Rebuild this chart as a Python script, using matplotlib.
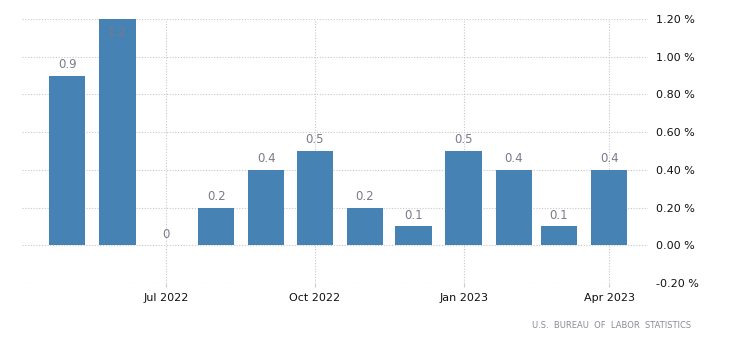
import matplotlib
matplotlib.use("Agg")
import matplotlib.pyplot as plt
import matplotlib.dates as mdates
import datetime as dt

months = ["2022-05", "2022-06", "2022-07", "2022-08", "2022-09", "2022-10",
          "2022-11", "2022-12", "2023-01", "2023-02", "2023-03", "2023-04"]
values = [0.9, 1.2, 0.0, 0.2, 0.4, 0.5, 0.2, 0.1, 0.5, 0.4, 0.1, 0.4]
labels = ["0.9", "1.2", "0", "0.2", "0.4", "0.5", "0.2", "0.1", "0.5", "0.4", "0.1", "0.4"]
yticks = [-0.2, 0.0, 0.2, 0.4, 0.6, 0.8, 1.0, 1.2]
xtick_dates = ["2022-07", "2022-10", "2023-01", "2023-04"]
xtick_labels = ["Jul 2022", "Oct 2022", "Jan 2023", "Apr 2023"]
source = "U.S.  BUREAU  OF  LABOR  STATISTICS"

def d(s):
    y, m = s.split("-")
    return dt.datetime(int(y), int(m), 1)

xs = [d(m) for m in months]

fig = plt.figure(figsize=(7.3, 3.49), dpi=100)
ax = fig.add_axes([22/730, 1-283/349, (648-22)/730, (283-19)/349])

ax.bar(xs, values, width=22.5, color="#4682b4", zorder=3)

ymin, ymax = -0.2, 1.2
ax.set_ylim(ymin, ymax)
ax.set_xlim(dt.datetime(2022, 4, 3), dt.datetime(2023, 4, 25))

for x, v, lab in zip(xs, values, labels):
    if v >= ymax - 0.05:
        ax.annotate(lab, (mdates.date2num(x), v), xytext=(0, -10), textcoords="offset points",
                    ha="center", va="center", color="#7a7a8a", fontsize=8.5, zorder=4)
    else:
        ax.annotate(lab, (mdates.date2num(x), v), xytext=(0, 8), textcoords="offset points",
                    ha="center", va="center", color="#7a7a8a", fontsize=8.5, zorder=4)

ax.set_yticks(yticks)
ax.set_yticklabels([f"{t:.2f} %" for t in yticks])
ax.yaxis.tick_right()
ax.set_xticks([mdates.date2num(d(s)) for s in xtick_dates])
ax.set_xticklabels(xtick_labels)

ax.tick_params(axis="y", length=0, pad=6, labelsize=8, labelcolor="#111111")
ax.tick_params(axis="x", length=3, color="#cccccc", pad=4, labelsize=8, labelcolor="#111111")

ax.grid(True, which="major", linestyle=(0, (1, 1.5)), color="#c8c8c8", linewidth=0.8, zorder=0)
for s in ax.spines.values():
    s.set_visible(False)

fig.text(612/730, 1-325/349, source, ha="center", va="center", fontsize=6, color="#8a8a9a")

fig.savefig("out.png", dpi=100)
